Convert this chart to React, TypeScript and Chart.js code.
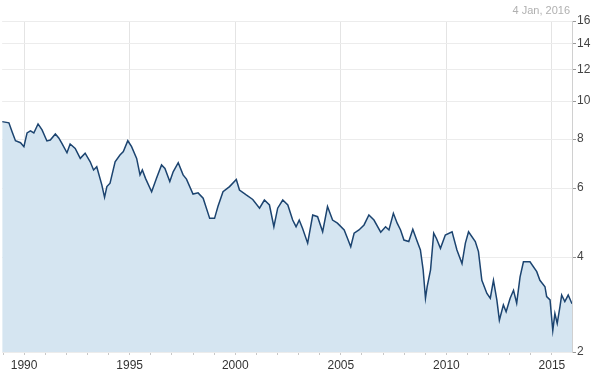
import React, { useEffect, useRef } from 'react';
import { Chart, registerables } from 'chart.js';

Chart.register(...registerables);

const titleText = '4 Jan, 2016';

const years = [1988.96,1989.28,1989.43,1989.59,1989.83,1989.99,1990.14,1990.30,1990.46,1990.66,1990.85,1991.08,1991.24,1991.48,1991.64,1991.79,1992.03,1992.18,1992.42,1992.66,1992.89,1993.13,1993.29,1993.44,1993.68,1993.81,1993.92,1994.07,1994.31,1994.54,1994.70,1994.91,1995.09,1995.33,1995.49,1995.60,1995.75,1996.04,1996.27,1996.51,1996.67,1996.90,1997.06,1997.30,1997.53,1997.69,1998.00,1998.24,1998.48,1998.79,1999.02,1999.18,1999.42,1999.73,2000.05,2000.20,2000.52,2000.83,2001.15,2001.38,2001.62,2001.83,2002.01,2002.25,2002.49,2002.72,2002.88,2003.03,2003.19,2003.43,2003.67,2003.90,2004.14,2004.37,2004.61,2004.84,2005.16,2005.32,2005.47,2005.63,2005.86,2006.10,2006.33,2006.57,2006.89,2007.12,2007.28,2007.49,2007.67,2007.83,2007.99,2008.22,2008.41,2008.62,2008.77,2008.90,2009.01,2009.09,2009.25,2009.40,2009.53,2009.72,2009.95,2010.27,2010.50,2010.74,2010.90,2011.05,2011.37,2011.52,2011.68,2011.92,2012.08,2012.23,2012.39,2012.51,2012.70,2012.83,2013.02,2013.18,2013.33,2013.49,2013.65,2013.96,2014.28,2014.43,2014.67,2014.75,2014.91,2015.04,2015.14,2015.25,2015.38,2015.46,2015.61,2015.77,2015.95];

const values = [8.86,8.80,8.35,7.92,7.83,7.65,8.29,8.39,8.29,8.74,8.44,7.91,7.95,8.24,8.05,7.80,7.38,7.77,7.57,7.14,7.36,7.00,6.67,6.80,6.11,5.68,6.05,6.17,7.00,7.28,7.43,7.92,7.65,7.14,6.48,6.67,6.35,5.87,6.35,6.87,6.73,6.23,6.60,6.96,6.48,6.32,5.79,5.83,5.65,5.02,5.02,5.38,5.87,6.05,6.31,5.93,5.76,5.61,5.33,5.59,5.43,4.78,5.33,5.59,5.43,4.97,4.78,4.97,4.73,4.34,5.12,5.07,4.64,5.38,4.97,4.88,4.69,4.46,4.25,4.60,4.69,4.83,5.12,4.97,4.63,4.78,4.69,5.17,4.88,4.69,4.42,4.38,4.71,4.38,4.17,3.71,3.14,3.36,3.71,4.60,4.46,4.21,4.55,4.64,4.17,3.85,4.34,4.64,4.38,4.13,3.49,3.23,3.14,3.49,3.11,2.76,3.02,2.90,3.14,3.29,3.05,3.56,3.89,3.89,3.67,3.49,3.36,3.17,3.11,2.60,2.87,2.71,2.99,3.20,3.08,3.20,3.04];

const xTickYears = [1989,1990,1991,1992,1993,1994,1995,1996,1997,1998,1999,2000,2001,2002,2003,2004,2005,2006,2007,2008,2009,2010,2011,2012,2013,2014,2015];
const xLabelEvery = 5;
const xMin = 1988.96;
const xMax = 2015.95;

const yTickValues = [4, 6, 8, 10, 12, 14, 16];
const yBottomLabel = '2';
const yMin = 2.29;
const yMax = 16;

const FONT = '"Liberation Sans", Arial, sans-serif';

export default function App() {
  const ref = useRef<HTMLCanvasElement>(null);

  useEffect(() => {
    document.body.style.margin = '0';
    const canvas = ref.current;
    if (!canvas) return;

    const titlePlugin = {
      id: 'dateTitle',
      afterDraw(chart: any) {
        const ctx = chart.ctx;
        ctx.save();
        ctx.font = `11px ${FONT}`;
        ctx.fillStyle = '#b0b0b0';
        ctx.textAlign = 'right';
        ctx.textBaseline = 'middle';
        ctx.fillText(titleText, chart.chartArea.right - 2, 11);
        ctx.restore();
      },
    };

    const chart = new Chart(canvas, {
      type: 'line',
      data: {
        datasets: [
          {
            data: years.map((x, i) => ({ x, y: values[i] })),
            borderColor: '#1c4470',
            borderWidth: 1.5,
            backgroundColor: '#d5e5f1',
            fill: 'start',
            pointRadius: 0,
            tension: 0,
          },
        ],
      },
      options: {
        responsive: false,
        animation: false,
        layout: { padding: { top: 21, left: 0, right: 0, bottom: 0 } },
        plugins: {
          legend: { display: false },
          tooltip: { enabled: false },
          title: { display: false },
        },
        scales: {
          x: {
            type: 'linear',
            min: xMin,
            max: xMax,
            afterBuildTicks: (scale: any) => {
              scale.ticks = xTickYears.map((v) => ({ value: v }));
            },
            afterFit: (scale: any) => {
              scale.height = 24;
            },
            border: { display: false },
            grid: {
              color: (ctx: any) =>
                ctx.tick && ctx.tick.value % xLabelEvery === 0 ? '#e4e4e4' : 'rgba(0,0,0,0)',
              tickColor: '#c8c8c8',
              tickLength: 3,
              lineWidth: 1,
            },
            ticks: {
              autoSkip: false,
              maxRotation: 0,
              padding: 3,
              color: '#333333',
              font: { family: FONT, size: 12 },
              callback: (v: any) => (Number(v) % xLabelEvery === 0 ? String(v) : ''),
            },
          },
          y: {
            type: 'logarithmic',
            position: 'right',
            min: yMin,
            max: yMax,
            afterBuildTicks: (scale: any) => {
              scale.ticks = [yMin, ...yTickValues].map((v) => ({ value: v }));
            },
            afterFit: (scale: any) => {
              scale.width = 21;
            },
            border: { display: true, color: '#d0d0d0' },
            grid: {
              color: '#ececec',
              tickColor: '#999999',
              tickLength: 4,
            },
            ticks: {
              autoSkip: false,
              padding: 1,
              color: '#444444',
              font: { family: FONT, size: 12 },
              callback: (v: any) => (Number(v) === yMin ? yBottomLabel : String(v)),
            },
          },
        },
      },
      plugins: [titlePlugin],
    });

    return () => chart.destroy();
  }, []);

  return (
    <div style={{ position: 'fixed', left: 0, top: 0, width: 593, height: 376 }}>
      <canvas ref={ref} width={593} height={376} style={{ display: 'block' }} />
    </div>
  );
}
